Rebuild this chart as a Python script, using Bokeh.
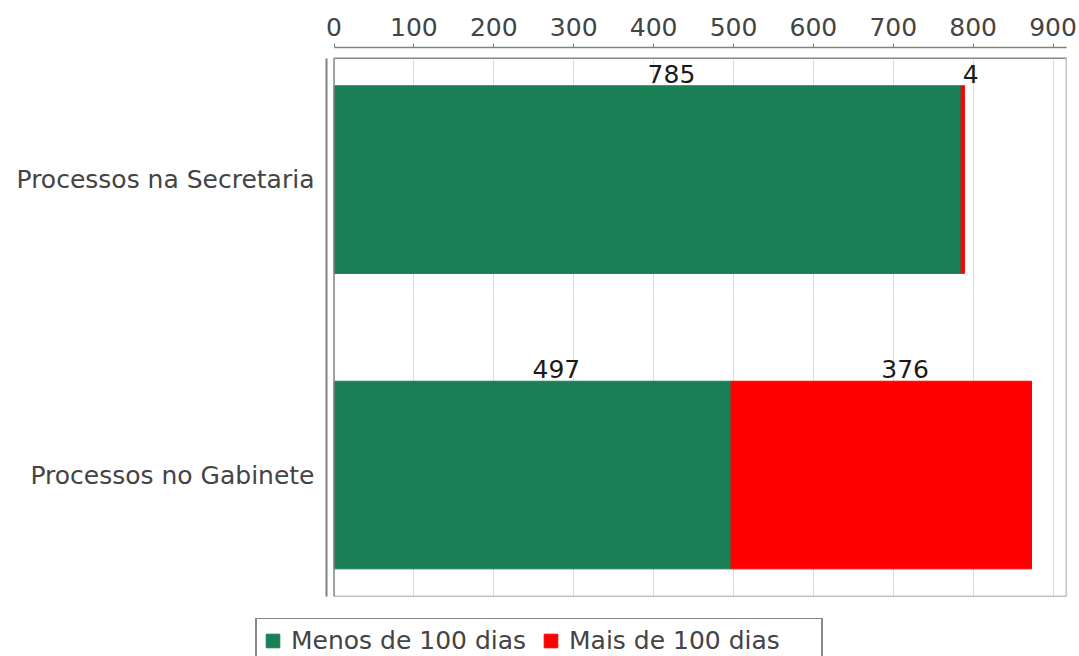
from bokeh.plotting import figure
from bokeh.models import ColumnDataSource, Range1d, FixedTicker, Legend, LegendItem
from bokeh.core.properties import value
from bokeh.embed import file_html
from bokeh.resources import INLINE

# ---- data ----
categories = ["Processos no Gabinete", "Processos na Secretaria"]
menos_100 = [497, 785]
mais_100 = [376, 4]
series_labels = ["Menos de 100 dias", "Mais de 100 dias"]
x_ticks = [0, 100, 200, 300, 400, 500, 600, 700, 800, 900]

GREEN = "#1B7F55"
RED = "#FF0000"
COLORS = [GREEN, RED]
FONT = "DejaVu Sans"
BAR_H = 0.635

ypos = list(range(len(categories)))
source = ColumnDataSource(dict(y=ypos, menos=menos_100, mais=mais_100))

X0, X1 = -9.4, 916.8
Y0, Y1 = -0.411, 1.447
INNER_TOP = 1.411

p = figure(width=1079, height=618, output_backend="svg", toolbar_location=None,
           x_range=Range1d(X0, X1), y_range=Range1d(Y0, Y1),
           x_axis_location="above",
           min_border_left=326, min_border_right=13, min_border_top=47, min_border_bottom=22)
p.outline_line_color = None
p.background_fill_color = "white"
p.border_fill_color = "white"

# mask above the inner plot area (hides grid lines in the gap)
p.quad(left=[X0], right=[X1], bottom=[INNER_TOP], top=[Y1], fill_color="white", line_color=None)

r = p.hbar_stack(["menos", "mais"], y="y", height=BAR_H, color=COLORS, source=source)

# inner plot-area border
p.quad(left=[0], right=[X1], bottom=[Y0], top=[INNER_TOP], fill_color=None,
       line_color="#888888", line_width=1.5)

# value labels: left-anchored at segment centre, above the bar
lx, ly, lt = [], [], []
for i in range(len(categories)):
    lx.append(menos_100[i] / 2)
    ly.append(ypos[i] + BAR_H / 2)
    lt.append(str(menos_100[i]))
    lx.append(menos_100[i] + mais_100[i] / 2)
    ly.append(ypos[i] + BAR_H / 2)
    lt.append(str(mais_100[i]))
p.text(x=lx, y=ly, text=lt, text_align="left", text_baseline="bottom", y_offset=-3,
       text_font=value(FONT), text_font_size="25px", text_color="#1a1a1a")

# x axis (top)
xa = p.xaxis[0]
xa.ticker = FixedTicker(ticks=x_ticks)
xa.bounds = (0, X1)
xa.axis_line_color = "#808080"
xa.axis_line_width = 1.5
xa.major_tick_line_color = "#808080"
xa.major_tick_out = 4
xa.major_tick_in = 0
xa.minor_tick_line_color = None
xa.major_label_standoff = 8
xa.major_label_text_font = FONT
xa.major_label_text_font_size = "25px"
xa.major_label_text_color = "#444444"

# y axis (categories)
ya = p.yaxis[0]
ya.ticker = FixedTicker(ticks=ypos)
ya.major_label_overrides = {y: c for y, c in zip(ypos, categories)}
ya.bounds = (Y0, INNER_TOP)
ya.axis_line_color = "#808080"
ya.axis_line_width = 2
ya.major_tick_line_color = None
ya.major_tick_out = 0
ya.major_tick_in = 0
ya.minor_tick_line_color = None
ya.major_label_standoff = 12
ya.major_label_text_font = FONT
ya.major_label_text_font_size = "25px"
ya.major_label_text_color = "#444444"

p.xgrid.grid_line_color = "#DDDDDD"
p.xgrid.ticker = FixedTicker(ticks=x_ticks)
p.ygrid.grid_line_color = None

# ---- legend strip below the chart (separate root, so no frame alignment) ----
p2 = figure(width=1079, height=38, output_backend="svg", toolbar_location=None,
            x_range=Range1d(0, 1), y_range=Range1d(0, 1),
            x_axis_location=None, y_axis_location=None, min_border=0)
p2.outline_line_color = None
p2.grid.grid_line_color = None
proxies = p2.hbar_stack(["menos", "mais"], y="y", height=BAR_H, color=COLORS, source=source)
for pr in proxies:
    pr.visible = False

lg = Legend(items=[LegendItem(label=series_labels[k], renderers=[proxies[k]]) for k in range(2)])
lg.orientation = "horizontal"
lg.location = (255, -8)
lg.margin = 0
lg.padding = 7
lg.spacing = 6
lg.glyph_width = 17
lg.glyph_height = 17
lg.label_standoff = 10
lg.label_width = 245
lg.label_text_font = FONT
lg.label_text_font_size = "25px"
lg.label_text_color = "#444444"
lg.border_line_color = "#111111"
lg.border_line_width = 2
lg.background_fill_alpha = 1.0
lg.inactive_fill_alpha = 0.0
lg.click_policy = "none"
p2.add_layout(lg, "center")

open("out.html", "w").write(file_html([p, p2], INLINE))
